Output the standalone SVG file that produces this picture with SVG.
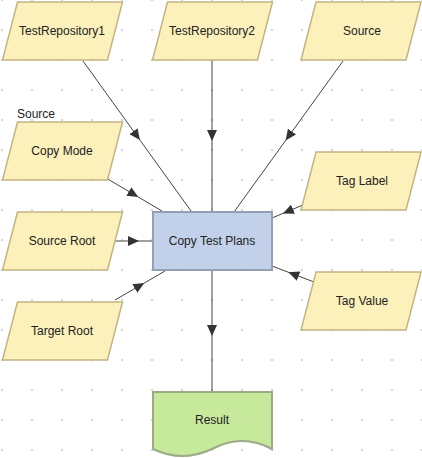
<svg xmlns="http://www.w3.org/2000/svg" width="422" height="458" viewBox="0 0 422 458">
<defs>
<pattern id="grid" x="-13" y="-15" width="30" height="30" patternUnits="userSpaceOnUse">
<circle cx="15" cy="15" r="1.2" fill="#d4d4d4"/>
</pattern>
<marker id="arr" markerWidth="12" markerHeight="10" refX="6" refY="5" orient="auto" markerUnits="userSpaceOnUse">
<path d="M0,0 L11,5 L0,10 Z" fill="#333"/>
</marker>
<path id="para" d="M15,0 H120 L105,58 H0 Z"/>
</defs>
<style>
.p{fill:#fcf0bb;stroke:#c2b483;stroke-width:1.5}
.t{font-family:"Liberation Sans",Arial,sans-serif;font-size:12px;fill:#222;text-anchor:middle;dominant-baseline:central}
.c{fill:none;stroke:#444;stroke-width:1;marker-mid:url(#arr)}
</style>
<rect width="422" height="458" fill="#fff"/>
<rect width="422" height="458" fill="url(#grid)"/>

<g id="connectors">
<path class="c" d="M83,61 L137,136 L191,211"/>
<path class="c" d="M212,60 L212,136 L212,212"/>
<path class="c" d="M343,61 L288.5,136.5 L234,212"/>
<path class="c" d="M106,178 L134,194.5 L162,211"/>
<path class="c" d="M113,241 L134,241 L152,241"/>
<path class="c" d="M115,300 L140,285.5 L165,271"/>
<path class="c" d="M303,205 L287.5,211.5 L272,218"/>
<path class="c" d="M314,282 L293,274 L272,266"/>
<path class="c" d="M212,270 L212,331 L212,392"/>
</g>

<g id="testrepo1"><use href="#para" class="p" x="2.5" y="2"/><text class="t" x="62" y="31">TestRepository1</text></g>
<g id="testrepo2"><use href="#para" class="p" x="152.5" y="2"/><text class="t" x="212" y="31">TestRepository2</text></g>
<g id="source"><use href="#para" class="p" x="301" y="2"/><text class="t" x="362" y="31">Source</text></g>
<g id="copymode"><use href="#para" class="p" x="2.5" y="122"/><text class="t" x="62" y="151">Copy Mode</text><text x="17" y="118" style="font-family:'Liberation Sans',Arial,sans-serif;font-size:12px;fill:#222">Source</text></g>
<g id="taglabel"><use href="#para" class="p" x="301" y="152"/><text class="t" x="362" y="181">Tag Label</text></g>
<g id="sourceroot"><use href="#para" class="p" x="2.5" y="212"/><text class="t" x="62" y="241">Source Root</text></g>
<g id="targetroot"><use href="#para" class="p" x="2.5" y="302"/><text class="t" x="62" y="331">Target Root</text></g>
<g id="tagvalue"><use href="#para" class="p" x="301" y="272"/><text class="t" x="362" y="301">Tag Value</text></g>
<g id="copytestplans"><rect x="153" y="212" width="119" height="58" fill="#c3d0ea" stroke="#939fb3" stroke-width="2"/><text class="t" x="212" y="241">Copy Test Plans</text></g>
<g id="result"><path d="M153,392 H272 V449 Q242,433 212,449 Q182,463 153,449 Z" fill="#c7e99b" stroke="#9aab86" stroke-width="2"/><text class="t" x="212" y="420">Result</text></g>
</svg>
